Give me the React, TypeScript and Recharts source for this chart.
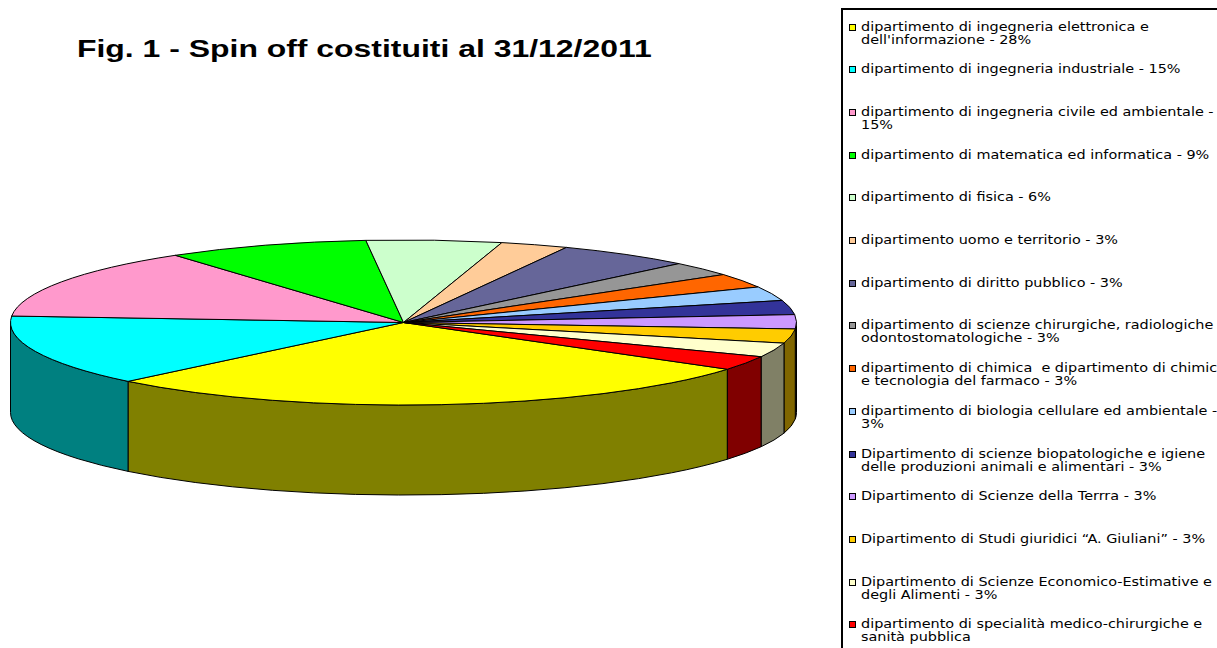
import { PieChart, Pie, Legend } from "recharts";

const departments = [
  "dipartimento di ingegneria elettronica e\ndell'informazione - 28%",
  "dipartimento di ingegneria industriale - 15%",
  "dipartimento di ingegneria civile ed ambientale -\n15%",
  "dipartimento di matematica ed informatica - 9%",
  "dipartimento di fisica - 6%",
  "dipartimento uomo e territorio - 3%",
  "dipartimento di diritto pubblico - 3%",
  "dipartimento di scienze chirurgiche, radiologiche e\nodontostomatologiche - 3%",
  "dipartimento di chimica  e dipartimento di chimica\ne tecnologia del farmaco - 3%",
  "dipartimento di biologia cellulare ed ambientale -\n3%",
  "Dipartimento di scienze biopatologiche e igiene\ndelle produzioni animali e alimentari - 3%",
  "Dipartimento di Scienze della Terrra - 3%",
  "Dipartimento di Studi giuridici \u201cA. Giuliani\u201d - 3%",
  "Dipartimento di Scienze Economico-Estimative e\ndegli Alimenti - 3%",
  "dipartimento di specialità medico-chirurgiche e\nsanità pubblica",
];

const spinoffCounts = [10, 5, 5, 3, 2, 1, 2, 1, 1, 1, 1, 1, 1, 1, 1];

const sliceColors = [
  "#FFFF00", "#00FFFF", "#FF99CC", "#00FF00", "#CCFFCC",
  "#FFCC99", "#666699", "#969696", "#FF6600", "#99CCFF",
  "#333399", "#CC99FF", "#FFCC00", "#FFFFCC", "#FF0000",
];

const pieData = departments.map((name, i) => ({ name, value: spinoffCounts[i] }));

// 3d look: squash the circle into an ellipse and add the front wall
const TILT = 0.21;
const DEPTH = 90;

const darken = (hex: string) => {
  const n = parseInt(hex.slice(1), 16);
  const r = Math.round(((n >> 16) & 255) / 2);
  const g = Math.round(((n >> 8) & 255) / 2);
  const b = Math.round((n & 255) / 2);
  return "#" + ((1 << 24) + (r << 16) + (g << 8) + b).toString(16).slice(1);
};

const renderSlice = (props: any) => {
  const { cx, cy, outerRadius, startAngle, endAngle, index } = props;
  const rx = outerRadius;
  const ry = outerRadius * TILT;
  const pt = (deg: number, dy = 0) => {
    const rad = (deg * Math.PI) / 180;
    return `${cx + rx * Math.cos(rad)},${cy - ry * Math.sin(rad) + dy}`;
  };
  const color = sliceColors[index % sliceColors.length];
  const lo = Math.min(startAngle, endAngle);
  const hi = Math.max(startAngle, endAngle);

  const walls: string[] = [];
  for (const k of [-360, 0, 360]) {
    const p = Math.max(lo, 180 + k);
    const q = Math.min(hi, 360 + k);
    if (q - p > 0.01) {
      walls.push(
        `M${pt(p)} A${rx},${ry} 0 0 0 ${pt(q)} L${pt(q, DEPTH)} A${rx},${ry} 0 0 1 ${pt(p, DEPTH)} Z`
      );
    }
  }

  const large = hi - lo > 180 ? 1 : 0;
  const sweep = startAngle > endAngle ? 1 : 0;
  const top = `M${cx},${cy} L${pt(startAngle)} A${rx},${ry} 0 ${large} ${sweep} ${pt(endAngle)} Z`;

  return (
    <g key={`slice-${index}`}>
      {walls.map((d, j) => (
        <path key={j} d={d} fill={darken(color)} stroke="#000" strokeWidth={1} strokeLinejoin="round" />
      ))}
      <path d={top} fill={color} stroke="#000" strokeWidth={1} strokeLinejoin="round" />
    </g>
  );
};

const renderLegend = () => (
  <div
    style={{
      position: "relative",
      width: 400,
      height: 660,
      borderLeft: "2px solid #000",
      borderTop: "2px solid #000",
      background: "#fff",
      fontFamily: "'DejaVu Sans', Verdana, sans-serif",
      fontSize: 12,
      lineHeight: "13px",
      color: "#000",
    }}
  >
    {departments.map((label, i) => (
      <div key={label} style={{ position: "absolute", left: 0, top: 10.5 + i * 42.71 }}>
        <div
          style={{
            position: "absolute",
            left: 6,
            top: 3,
            width: 5,
            height: 5,
            border: "1px solid #000",
            background: sliceColors[i],
          }}
        />
        <span
          style={{
            position: "absolute",
            left: 18,
            top: 0,
            display: "inline-block",
            whiteSpace: "pre",
            transform: "scaleX(1.2)",
            transformOrigin: "0 0",
          }}
        >
          {label}
        </span>
      </div>
    ))}
  </div>
);

export default function App() {
  return (
    <div
      style={{
        position: "absolute",
        left: 0,
        top: 0,
        width: 1217,
        height: 648,
        overflow: "hidden",
        background: "#fff",
      }}
    >
      <div
        style={{
          position: "absolute",
          left: 77,
          top: 37,
          fontFamily: "'Liberation Sans', Arial, sans-serif",
          fontWeight: "bold",
          fontSize: 24,
          lineHeight: "24px",
          whiteSpace: "nowrap",
          transform: "scaleX(1.33)",
          transformOrigin: "0 0",
          zIndex: 2,
        }}
      >
        Fig. 1 - Spin off costituiti al 31/12/2011
      </div>
      <PieChart width={1217} height={648} margin={{ top: 0, right: 0, bottom: 0, left: 0 }}>
        <Pie
          data={pieData}
          dataKey="value"
          nameKey="name"
          cx={403.5}
          cy={322.5}
          outerRadius={393}
          startAngle={325.5}
          endAngle={-34.5}
          fill="none"
          stroke="none"
          label={renderSlice}
          labelLine={false}
          isAnimationActive={false}
        />
        <Legend
          layout="vertical"
          align="right"
          verticalAlign="top"
          content={renderLegend}
          wrapperStyle={{ left: 841, top: 8, width: 400, height: 660 }}
        />
      </PieChart>
    </div>
  );
}
